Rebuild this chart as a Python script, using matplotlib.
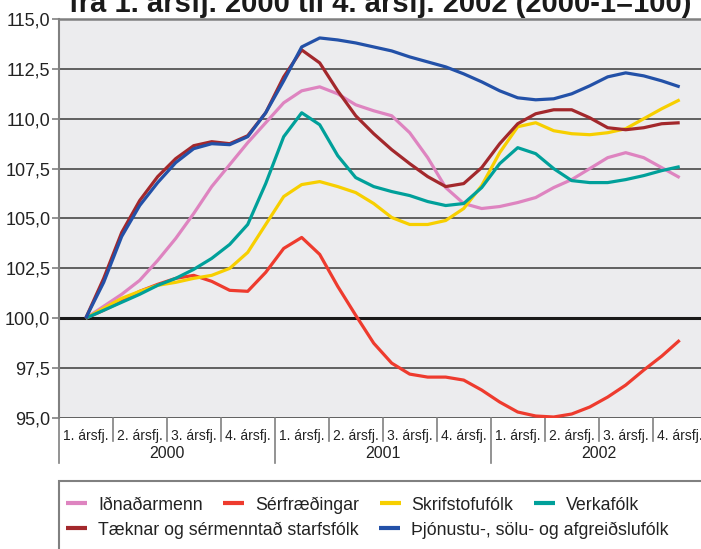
import numpy as np
import matplotlib
matplotlib.use("Agg")
import matplotlib.pyplot as plt
from matplotlib.lines import Line2D
from matplotlib.patches import Rectangle
import matplotlib.transforms as mtransforms

plt.rcParams['font.family'] = ['Liberation Sans', 'DejaVu Sans']

title = "frá 1. ársfj. 2000 til 4. ársfj. 2002 (2000-1=100)"
quarters = ["1. ársfj.", "2. ársfj.", "3. ársfj.", "4. ársfj."] * 3
years = ["2000", "2001", "2002"]
yticks = [95.0, 97.5, 100.0, 102.5, 105.0, 107.5, 110.0, 112.5, 115.0]
ytick_labels = ["95,0", "97,5", "100,0", "102,5", "105,0", "107,5", "110,0", "112,5", "115,0"]

# monthly readings, first month of 1. ársfj. 2000 centre to 4. ársfj. 2002 centre
idnadarmenn = [100.0, 100.6, 101.2, 101.9, 102.9, 104.0, 105.25, 106.6, 107.7, 108.8,
               109.8, 110.8, 111.4, 111.6, 111.25, 110.7, 110.4, 110.15, 109.3, 108.05,
               106.55, 105.75, 105.5, 105.6, 105.8, 106.05, 106.55, 106.95, 107.5, 108.05,
               108.3, 108.05, 107.55, 107.05]
serfraedingar = [100.0, 100.4, 100.85, 101.35, 101.7, 102.0, 102.15, 101.85, 101.4, 101.35,
                 102.3, 103.5, 104.05, 103.2, 101.6, 100.15, 98.75, 97.75, 97.2, 97.05,
                 97.05, 96.9, 96.4, 95.8, 95.3, 95.1, 95.05, 95.2, 95.55, 96.05,
                 96.65, 97.4, 98.1, 98.9]
skrifstofufolk = [100.0, 100.5, 101.0, 101.35, 101.65, 101.8, 102.0, 102.15, 102.5, 103.3,
                  104.7, 106.1, 106.7, 106.85, 106.6, 106.3, 105.75, 105.05, 104.7, 104.7,
                  104.9, 105.5, 106.65, 108.3, 109.6, 109.8, 109.4, 109.25, 109.2, 109.3,
                  109.5, 110.0, 110.5, 110.95]
verkafolk = [100.0, 100.4, 100.8, 101.2, 101.65, 102.0, 102.45, 103.0, 103.7, 104.7,
             106.75, 109.1, 110.3, 109.7, 108.15, 107.05, 106.6, 106.35, 106.15, 105.85,
             105.65, 105.75, 106.55, 107.75, 108.55, 108.25, 107.5, 106.9, 106.8, 106.8,
             106.95, 107.15, 107.4, 107.6]
taeknar = [100.0, 102.0, 104.3, 105.9, 107.1, 108.0, 108.65, 108.85, 108.75, 109.15,
           110.3, 112.1, 113.45, 112.8, 111.4, 110.15, 109.25, 108.45, 107.75, 107.1,
           106.6, 106.75, 107.55, 108.75, 109.75, 110.25, 110.45, 110.45, 110.05, 109.55,
           109.45, 109.55, 109.75, 109.8]
thjonustu = [100.0, 101.8, 104.1, 105.65, 106.8, 107.8, 108.5, 108.75, 108.7, 109.1,
             110.3, 111.9, 113.6, 114.05, 113.95, 113.8, 113.6, 113.4, 113.1, 112.85,
             112.6, 112.25, 111.85, 111.4, 111.05, 110.95, 111.0, 111.25, 111.65, 112.1,
             112.3, 112.15, 111.9, 111.6]

series = [
    ("Iðnaðarmenn", idnadarmenn, "#DE84C0"),
    ("Sérfræðingar", serfraedingar, "#EE3B2E"),
    ("Skrifstofufólk", skrifstofufolk, "#F7CF00"),
    ("Verkafólk", verkafolk, "#00A09A"),
    ("Tæknar og sérmenntað starfsfólk", taeknar, "#A3282C"),
    ("Þjónustu-, sölu- og afgreiðslufólk", thjonustu, "#2351A8"),
]

W, H = 701, 549
fig = plt.figure(figsize=(W / 100, H / 100), dpi=100)
fig.patch.set_facecolor("white")

ax_left, ax_right, ax_top, ax_bottom = 58.7, 706.7, 19.0, 418.0
ax = fig.add_axes([ax_left / W, 1 - ax_bottom / H, (ax_right - ax_left) / W, (ax_bottom - ax_top) / H])
ax.set_facecolor("#ECECEE")

n_months = len(idnadarmenn)
xm = np.arange(n_months) / 3.0

handles = {}
for name, vals, col in series:
    ln, = ax.plot(xm, vals, color=col, lw=2.3, solid_capstyle='butt', solid_joinstyle='round', zorder=3, label=name)
    handles[name] = ln

ax.set_xlim(-0.5, len(quarters) - 0.5)
ax.set_ylim(95, 115)
ax.set_yticks(yticks)
ax.set_yticklabels(ytick_labels, fontsize=13, color="#222222")
ax.tick_params(axis='y', length=5, width=1.2, color="#808080", pad=1)

for v in yticks:
    if v == 100.0:
        ax.axhline(v, color="#1A1A1A", lw=2.2, zorder=2)
    elif v != 115.0:
        ax.axhline(v, color="#555555", lw=1.3, zorder=1)

for s in ["right", "bottom"]:
    ax.spines[s].set_visible(False)
ax.spines["top"].set_color("#808080")
ax.spines["top"].set_linewidth(1.8)
ax.spines["left"].set_color("#808080")
ax.spines["left"].set_linewidth(1.5)

# x axis: quarter labels and separators
ax.set_xticks(np.arange(len(quarters)))
ax.set_xticklabels(quarters, fontsize=10, color="#222222")
ax.tick_params(axis='x', length=0, pad=8)

trans = mtransforms.blended_transform_factory(ax.transData, ax.transAxes)
ph = ax_bottom - ax_top
for i in range(len(quarters) + 1):
    xb = i - 0.5
    if i % 4 == 0:
        y1 = -45 / ph
    else:
        y1 = -23 / ph
    ax.plot([xb, xb], [0, y1], transform=trans, color="#808080", lw=1.2, clip_on=False)
for j, yr in enumerate(years):
    ax.text(j * 4 + 1.5, -35 / ph, yr, transform=trans, ha='center', va='center', fontsize=11.5, color="#222222")

# title (partly cut off at top)
fig.text(380 / W, 1 - 11.5 / H, title, ha='center', va='baseline', fontsize=21, fontweight='bold', color="#1A1A1A")

# legend box
fig.patches.append(Rectangle((ax_left / W, -0.2), 1.0, 0.2 + (H - 481) / H, transform=fig.transFigure,
                             facecolor="white", edgecolor="#808080", lw=1.5, zorder=0))

row1 = ["Iðnaðarmenn", "Sérfræðingar", "Skrifstofufólk", "Verkafólk"]
row2 = ["Tæknar og sérmenntað starfsfólk", "Þjónustu-, sölu- og afgreiðslufólk"]
common = dict(frameon=False, borderpad=0, borderaxespad=0, handlelength=1.2, handletextpad=0.6,
              columnspacing=1.15, fontsize=12.8, loc='center left')
leg1 = fig.legend([handles[n] for n in row1], row1, ncol=4, bbox_to_anchor=(66 / W, 1 - 505 / H), **common)
leg2 = fig.legend([handles[n] for n in row2], row2, ncol=2, bbox_to_anchor=(66 / W, 1 - 530 / H), **common)
for leg in (leg1, leg2):
    for t in leg.get_texts():
        t.set_color("#222222")
    for l in leg.get_lines():
        l.set_linewidth(3)

fig.savefig("out.png", dpi=100, facecolor="white")
